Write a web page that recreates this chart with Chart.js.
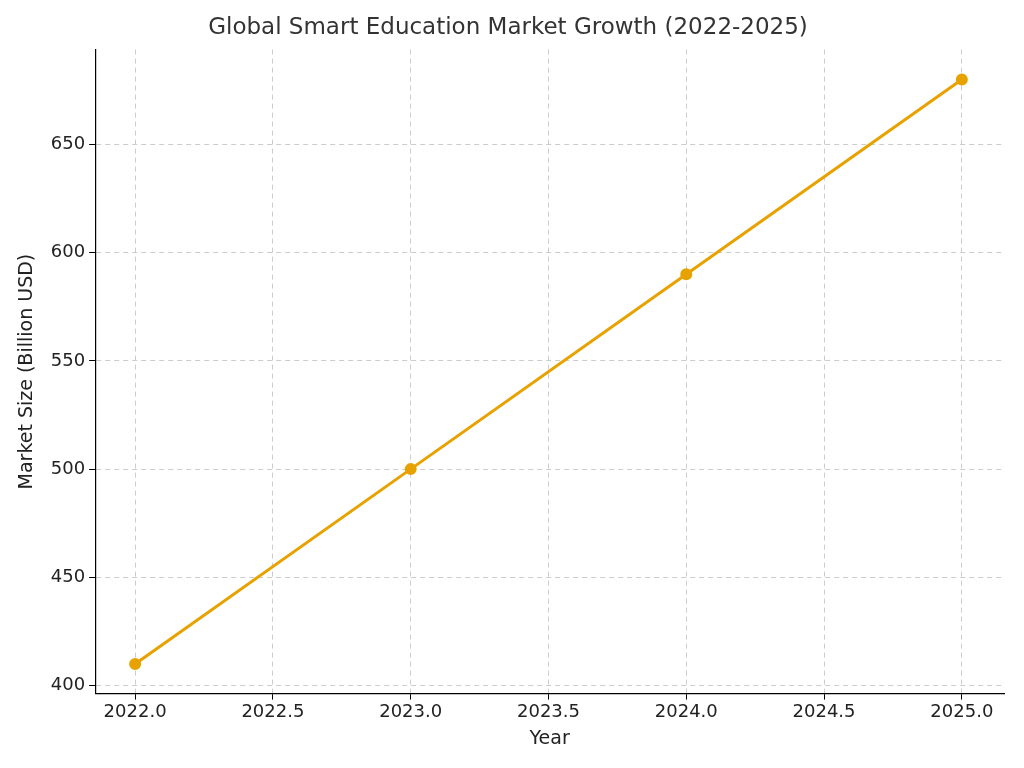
<!DOCTYPE html>
<html>
<head>
<meta charset="utf-8">
<script src="https://cdn.jsdelivr.net/npm/chart.js@4/dist/chart.umd.min.js"></script>
<style>
  html, body { margin: 0; padding: 0; background: #fff; }
  #wrap { width: 1024px; height: 768px; }
</style>
</head>
<body>
<div id="wrap"><canvas id="chart"></canvas></div>
<script>
// --- Data ---
const years = [2022, 2023, 2024, 2025];
const marketSize = [410, 500, 590, 680];
const xTicks = [2022.0, 2022.5, 2023.0, 2023.5, 2024.0, 2024.5, 2025.0];
const yTicks = [400, 450, 500, 550, 600, 650];

const tickFont = { family: 'DejaVu Sans', size: 18 };
const gridStyle = { color: '#cccccc', lineWidth: 1, drawTicks: true, tickLength: 6, tickColor: '#000' };

new Chart(document.getElementById('chart'), {
    type: 'line',
    data: {
        datasets: [{
            data: years.map((y, i) => ({ x: y, y: marketSize[i] })),
            borderColor: '#e8a200',
            backgroundColor: '#e8a200',
            borderWidth: 3,
            pointRadius: 4.5,
            pointHoverRadius: 4.5,
            tension: 0
        }]
    },
    options: {
        responsive: true,
        maintainAspectRatio: false,
        animation: false,
        layout: { padding: { top: 4, right: 20, left: 12, bottom: 14 } },
        plugins: {
            legend: { display: false },
            tooltip: { enabled: false },
            title: {
                display: true,
                text: 'Global Smart Education Market Growth (2022-2025)',
                color: '#333',
                font: { family: 'DejaVu Sans', size: 23, weight: 'normal' },
                padding: { top: 10, bottom: 8 }
            }
        },
        scales: {
            x: {
                type: 'linear',
                min: 2021.855,
                max: 2025.153,
                afterBuildTicks: axis => { axis.ticks = xTicks.map(v => ({ value: v })); },
                ticks: { color: '#222', font: tickFont, callback: v => Number(v).toFixed(1), maxRotation: 0, padding: 2 },
                grid: gridStyle,
                border: { display: true, color: '#000', width: 1.2, dash: [5, 4] },
                title: { display: true, text: 'Year', color: '#222', font: { family: 'DejaVu Sans', size: 19 }, padding: { top: 2 } }
            },
            y: {
                min: 396.3,
                max: 693.8,
                afterBuildTicks: axis => { axis.ticks = yTicks.map(v => ({ value: v })); },
                ticks: { color: '#222', font: tickFont, padding: 4 },
                grid: gridStyle,
                border: { display: true, color: '#000', width: 1.2, dash: [5, 4] },
                title: { display: true, text: 'Market Size (Billion USD)', color: '#222', font: { family: 'DejaVu Sans', size: 19 }, padding: { bottom: 8 } }
            }
        }
    }
});
</script>
</body>
</html>
